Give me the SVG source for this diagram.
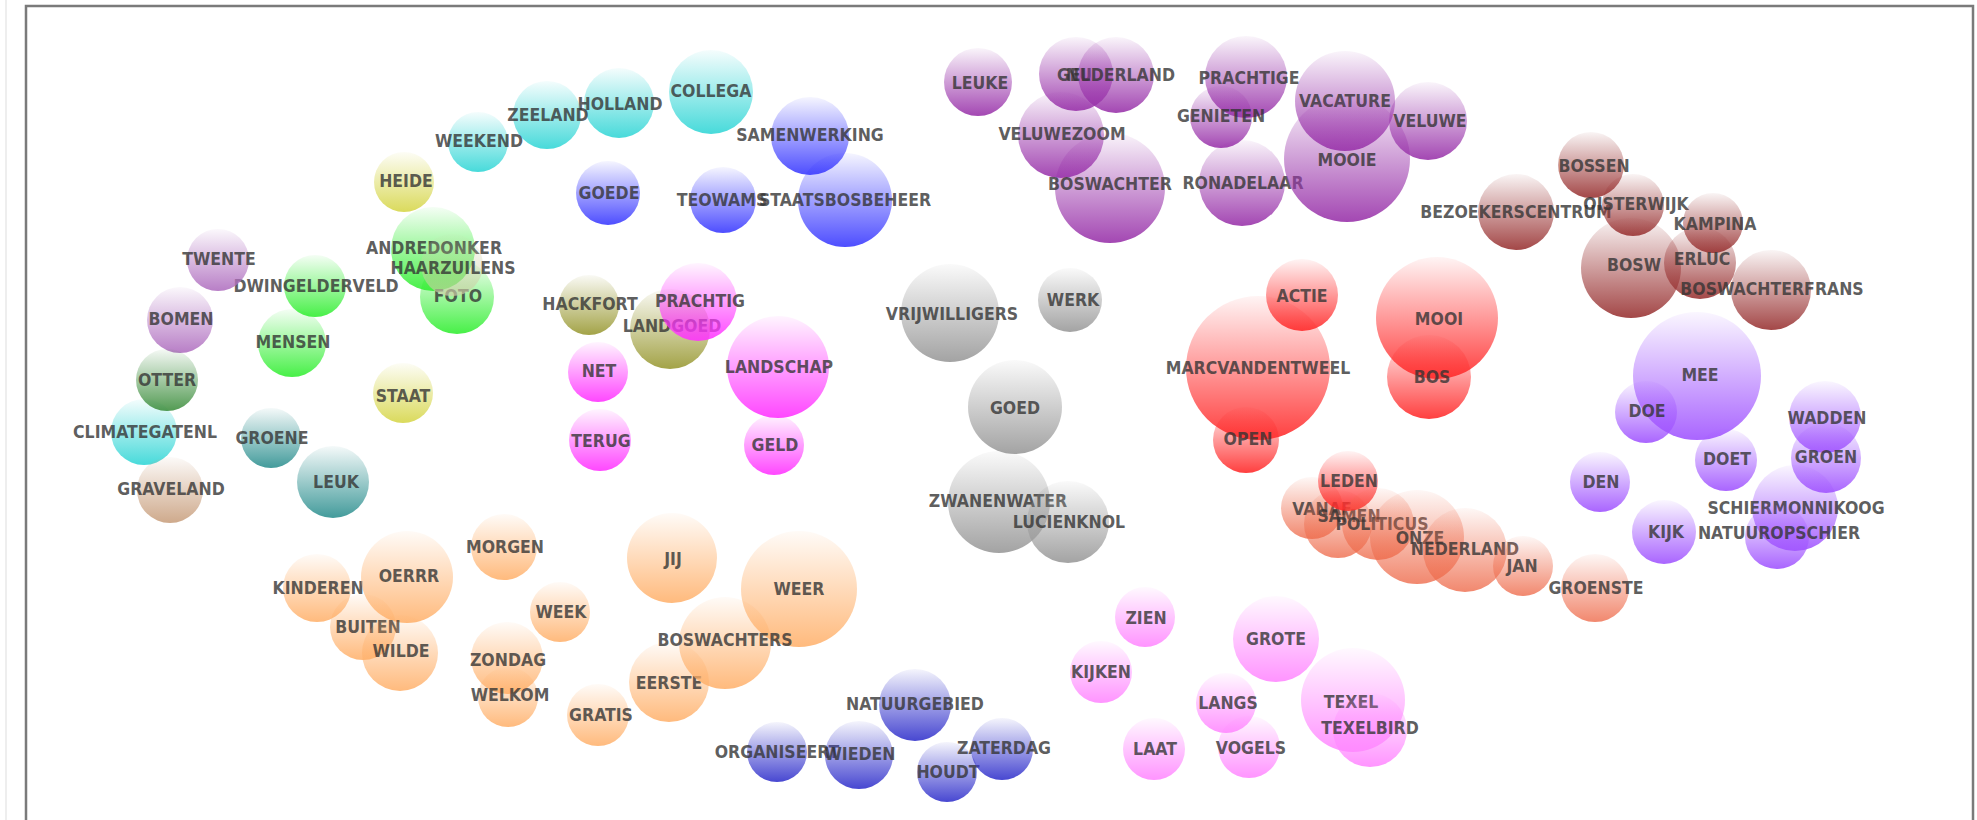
<svg xmlns="http://www.w3.org/2000/svg" width="1977" height="820" viewBox="0 0 1977 820">
<style>
.b{stroke:none}
.t{font-family:"DejaVu Sans Condensed","DejaVu Sans",sans-serif;font-stretch:condensed;font-weight:bold;font-size:17.5px;fill:#333;fill-opacity:0.8;text-anchor:middle}
</style>
<defs>
<linearGradient id="cyan" x1="0" y1="0" x2="0" y2="1"><stop offset="0" stop-color="#33d6d6" stop-opacity="0.05"/><stop offset="1" stop-color="#33d6d6" stop-opacity="0.9"/></linearGradient>
<linearGradient id="yellow" x1="0" y1="0" x2="0" y2="1"><stop offset="0" stop-color="#d6d64a" stop-opacity="0.05"/><stop offset="1" stop-color="#d6d64a" stop-opacity="0.9"/></linearGradient>
<linearGradient id="blue" x1="0" y1="0" x2="0" y2="1"><stop offset="0" stop-color="#3a3aff" stop-opacity="0.05"/><stop offset="1" stop-color="#3a3aff" stop-opacity="0.9"/></linearGradient>
<linearGradient id="green" x1="0" y1="0" x2="0" y2="1"><stop offset="0" stop-color="#33ee33" stop-opacity="0.05"/><stop offset="1" stop-color="#33ee33" stop-opacity="0.9"/></linearGradient>
<linearGradient id="pale" x1="0" y1="0" x2="0" y2="1"><stop offset="0" stop-color="#cfcfa8" stop-opacity="0.05"/><stop offset="1" stop-color="#cfcfa8" stop-opacity="0.7"/></linearGradient>
<linearGradient id="lav" x1="0" y1="0" x2="0" y2="1"><stop offset="0" stop-color="#b070c0" stop-opacity="0.05"/><stop offset="1" stop-color="#b070c0" stop-opacity="0.9"/></linearGradient>
<linearGradient id="dkgreen" x1="0" y1="0" x2="0" y2="1"><stop offset="0" stop-color="#3f8f3f" stop-opacity="0.05"/><stop offset="1" stop-color="#3f8f3f" stop-opacity="0.9"/></linearGradient>
<linearGradient id="teal" x1="0" y1="0" x2="0" y2="1"><stop offset="0" stop-color="#2e9090" stop-opacity="0.05"/><stop offset="1" stop-color="#2e9090" stop-opacity="0.9"/></linearGradient>
<linearGradient id="tan" x1="0" y1="0" x2="0" y2="1"><stop offset="0" stop-color="#c9a07f" stop-opacity="0.05"/><stop offset="1" stop-color="#c9a07f" stop-opacity="0.9"/></linearGradient>
<linearGradient id="olive" x1="0" y1="0" x2="0" y2="1"><stop offset="0" stop-color="#999933" stop-opacity="0.05"/><stop offset="1" stop-color="#999933" stop-opacity="0.9"/></linearGradient>
<linearGradient id="magenta" x1="0" y1="0" x2="0" y2="1"><stop offset="0" stop-color="#ff33ff" stop-opacity="0.05"/><stop offset="1" stop-color="#ff33ff" stop-opacity="0.9"/></linearGradient>
<linearGradient id="purple" x1="0" y1="0" x2="0" y2="1"><stop offset="0" stop-color="#9933aa" stop-opacity="0.05"/><stop offset="1" stop-color="#9933aa" stop-opacity="0.9"/></linearGradient>
<linearGradient id="gray" x1="0" y1="0" x2="0" y2="1"><stop offset="0" stop-color="#999999" stop-opacity="0.05"/><stop offset="1" stop-color="#999999" stop-opacity="0.9"/></linearGradient>
<linearGradient id="red" x1="0" y1="0" x2="0" y2="1"><stop offset="0" stop-color="#ff2a2a" stop-opacity="0.05"/><stop offset="1" stop-color="#ff2a2a" stop-opacity="0.9"/></linearGradient>
<linearGradient id="salmon" x1="0" y1="0" x2="0" y2="1"><stop offset="0" stop-color="#ee6a4a" stop-opacity="0.05"/><stop offset="1" stop-color="#ee6a4a" stop-opacity="0.8"/></linearGradient>
<linearGradient id="brown" x1="0" y1="0" x2="0" y2="1"><stop offset="0" stop-color="#993333" stop-opacity="0.05"/><stop offset="1" stop-color="#993333" stop-opacity="0.9"/></linearGradient>
<linearGradient id="lpurple" x1="0" y1="0" x2="0" y2="1"><stop offset="0" stop-color="#a054ff" stop-opacity="0.05"/><stop offset="1" stop-color="#a054ff" stop-opacity="0.9"/></linearGradient>
<linearGradient id="peach" x1="0" y1="0" x2="0" y2="1"><stop offset="0" stop-color="#ffae66" stop-opacity="0.05"/><stop offset="1" stop-color="#ffae66" stop-opacity="0.85"/></linearGradient>
<linearGradient id="indigo" x1="0" y1="0" x2="0" y2="1"><stop offset="0" stop-color="#3333cc" stop-opacity="0.05"/><stop offset="1" stop-color="#3333cc" stop-opacity="0.9"/></linearGradient>
<linearGradient id="pink" x1="0" y1="0" x2="0" y2="1"><stop offset="0" stop-color="#ff88ff" stop-opacity="0.05"/><stop offset="1" stop-color="#ff88ff" stop-opacity="0.9"/></linearGradient>
</defs>
<rect x="0" y="0" width="1977" height="820" fill="#ffffff"/>
<line x1="6" y1="0" x2="6" y2="820" stroke="#dddddd" stroke-width="1"/>
<rect x="26" y="6" width="1947" height="840" fill="none" stroke="#7a7a7a" stroke-width="2.5"/>
<g id="connectors"></g>
<g id="nodes">
<g id="n-holland"><circle class="b" cx="619" cy="103" r="35" fill="url(#cyan)"/><text class="t" x="620" y="109.5">HOLLAND</text></g>
<g id="n-zeeland"><circle class="b" cx="547" cy="115" r="34" fill="url(#cyan)"/><text class="t" x="548" y="120.5">ZEELAND</text></g>
<g id="n-weekend"><circle class="b" cx="478" cy="142" r="30" fill="url(#cyan)"/><text class="t" x="479" y="146.5">WEEKEND</text></g>
<g id="n-collega"><circle class="b" cx="711" cy="92" r="42" fill="url(#cyan)"/><text class="t" x="711" y="96.5">COLLEGA</text></g>
<g id="n-climategatenl"><circle class="b" cx="144" cy="432" r="33" fill="url(#cyan)"/><text class="t" x="145" y="437.5">CLIMATEGATENL</text></g>
<g id="n-heide"><circle class="b" cx="404" cy="182" r="30" fill="url(#yellow)"/><text class="t" x="406" y="186.5">HEIDE</text></g>
<g id="n-staat"><circle class="b" cx="403" cy="393" r="30" fill="url(#yellow)"/><text class="t" x="403" y="401.5">STAAT</text></g>
<g id="n-goede"><circle class="b" cx="608" cy="193" r="32" fill="url(#blue)"/><text class="t" x="609" y="198.5">GOEDE</text></g>
<g id="n-samenwerking"><circle class="b" cx="810" cy="136" r="39" fill="url(#blue)"/><text class="t" x="810" y="140.5">SAMENWERKING</text></g>
<g id="n-staatsbosbeheer"><circle class="b" cx="845" cy="200" r="47" fill="url(#blue)"/><text class="t" x="845" y="205.5">STAATSBOSBEHEER</text></g>
<g id="n-teowams"><circle class="b" cx="723" cy="200" r="33" fill="url(#blue)"/><text class="t" x="722" y="205.5">TEOWAMS</text></g>
<g id="n-andredonker"><circle class="b" cx="433" cy="249" r="42" fill="url(#green)"/><text class="t" x="434" y="253.5">ANDREDONKER</text></g>
<g id="n-foto"><circle class="b" cx="457" cy="297" r="37" fill="url(#green)"/><text class="t" x="458" y="301.5">FOTO</text></g>
<g id="n-haarzuilens"><circle class="b" cx="452" cy="265" r="31" fill="url(#pale)"/><text class="t" x="453" y="273.5">HAARZUILENS</text></g>
<g id="n-dwingelderveld"><circle class="b" cx="315" cy="286" r="31" fill="url(#green)"/><text class="t" x="316" y="291.5">DWINGELDERVELD</text></g>
<g id="n-mensen"><circle class="b" cx="292" cy="343" r="34" fill="url(#green)"/><text class="t" x="293" y="347.5">MENSEN</text></g>
<g id="n-twente"><circle class="b" cx="218" cy="260" r="31" fill="url(#lav)"/><text class="t" x="219" y="264.5">TWENTE</text></g>
<g id="n-bomen"><circle class="b" cx="180" cy="320" r="33" fill="url(#lav)"/><text class="t" x="181" y="324.5">BOMEN</text></g>
<g id="n-otter"><circle class="b" cx="167" cy="380" r="31" fill="url(#dkgreen)"/><text class="t" x="167" y="385.5">OTTER</text></g>
<g id="n-groene"><circle class="b" cx="271" cy="438" r="30" fill="url(#teal)"/><text class="t" x="272" y="443.5">GROENE</text></g>
<g id="n-leuk"><circle class="b" cx="333" cy="482" r="36" fill="url(#teal)"/><text class="t" x="336" y="487.5">LEUK</text></g>
<g id="n-graveland"><circle class="b" cx="170" cy="490" r="33" fill="url(#tan)"/><text class="t" x="171" y="494.5">GRAVELAND</text></g>
<g id="n-hackfort"><circle class="b" cx="589" cy="305" r="30" fill="url(#olive)"/><text class="t" x="590" y="309.5">HACKFORT</text></g>
<g id="n-landgoed"><circle class="b" cx="670" cy="329" r="40" fill="url(#olive)"/><text class="t" x="672" y="331.5">LANDGOED</text></g>
<g id="n-prachtig"><circle class="b" cx="698" cy="302" r="39" fill="url(#magenta)"/><text class="t" x="700" y="306.5">PRACHTIG</text></g>
<g id="n-net"><circle class="b" cx="598" cy="372" r="30" fill="url(#magenta)"/><text class="t" x="599" y="376.5">NET</text></g>
<g id="n-terug"><circle class="b" cx="600" cy="440" r="31" fill="url(#magenta)"/><text class="t" x="601" y="446.5">TERUG</text></g>
<g id="n-landschap"><circle class="b" cx="778" cy="367" r="51" fill="url(#magenta)"/><text class="t" x="779" y="372.5">LANDSCHAP</text></g>
<g id="n-geld"><circle class="b" cx="774" cy="445" r="30" fill="url(#magenta)"/><text class="t" x="775" y="450.5">GELD</text></g>
<g id="n-leuke"><circle class="b" cx="978" cy="82" r="34" fill="url(#purple)"/><text class="t" x="980" y="88.5">LEUKE</text></g>
<g id="n-nu"><circle class="b" cx="1076" cy="74" r="37" fill="url(#purple)"/><text class="t" x="1079" y="80.5">NU</text></g>
<g id="n-gelderland"><circle class="b" cx="1116" cy="75" r="38" fill="url(#purple)"/><text class="t" x="1116" y="80.5">GELDERLAND</text></g>
<g id="n-veluwezoom"><circle class="b" cx="1061" cy="135" r="43" fill="url(#purple)"/><text class="t" x="1062" y="139.5">VELUWEZOOM</text></g>
<g id="n-boswachter"><circle class="b" cx="1110" cy="188" r="55" fill="url(#purple)"/><text class="t" x="1110" y="189.5">BOSWACHTER</text></g>
<g id="n-prachtige"><circle class="b" cx="1246" cy="77" r="41" fill="url(#purple)"/><text class="t" x="1249" y="83.5">PRACHTIGE</text></g>
<g id="n-genieten"><circle class="b" cx="1221" cy="117" r="31" fill="url(#purple)"/><text class="t" x="1221" y="121.5">GENIETEN</text></g>
<g id="n-ronadelaar"><circle class="b" cx="1242" cy="183" r="43" fill="url(#purple)"/><text class="t" x="1243" y="188.5">RONADELAAR</text></g>
<g id="n-vacature"><circle class="b" cx="1345" cy="101" r="50" fill="url(#purple)"/><text class="t" x="1345" y="106.5">VACATURE</text></g>
<g id="n-mooie"><circle class="b" cx="1347" cy="159" r="63" fill="url(#purple)"/><text class="t" x="1347" y="165.5">MOOIE</text></g>
<g id="n-veluwe"><circle class="b" cx="1428" cy="121" r="39" fill="url(#purple)"/><text class="t" x="1430" y="126.5">VELUWE</text></g>
<g id="n-vrijwilligers"><circle class="b" cx="950" cy="313" r="49" fill="url(#gray)"/><text class="t" x="952" y="319.5">VRIJWILLIGERS</text></g>
<g id="n-werk"><circle class="b" cx="1070" cy="300" r="32" fill="url(#gray)"/><text class="t" x="1073" y="305.5">WERK</text></g>
<g id="n-goed"><circle class="b" cx="1015" cy="407" r="47" fill="url(#gray)"/><text class="t" x="1015" y="413.5">GOED</text></g>
<g id="n-zwanenwater"><circle class="b" cx="999" cy="502" r="51" fill="url(#gray)"/><text class="t" x="998" y="506.5">ZWANENWATER</text></g>
<g id="n-lucienknol"><circle class="b" cx="1068" cy="522" r="41" fill="url(#gray)"/><text class="t" x="1069" y="527.5">LUCIENKNOL</text></g>
<g id="n-actie"><circle class="b" cx="1302" cy="295" r="36" fill="url(#red)"/><text class="t" x="1302" y="301.5">ACTIE</text></g>
<g id="n-marcvandentweel"><circle class="b" cx="1258" cy="368" r="72" fill="url(#red)"/><text class="t" x="1258" y="373.5">MARCVANDENTWEEL</text></g>
<g id="n-mooi"><circle class="b" cx="1437" cy="318" r="61" fill="url(#red)"/><text class="t" x="1439" y="324.5">MOOI</text></g>
<g id="n-bos"><circle class="b" cx="1429" cy="377" r="42" fill="url(#red)"/><text class="t" x="1432" y="382.5">BOS</text></g>
<g id="n-open"><circle class="b" cx="1246" cy="440" r="33" fill="url(#red)"/><text class="t" x="1248" y="444.5">OPEN</text></g>
<g id="n-vanaf"><circle class="b" cx="1312" cy="508" r="31" fill="url(#salmon)"/><text class="t" x="1322" y="514.5">VANAF</text></g>
<g id="n-samen"><circle class="b" cx="1338" cy="524" r="34" fill="url(#salmon)"/><text class="t" x="1349" y="521.5">SAMEN</text></g>
<g id="n-leden"><circle class="b" cx="1348" cy="481" r="30" fill="url(#red)"/><text class="t" x="1349" y="486.5">LEDEN</text></g>
<g id="n-politicus"><circle class="b" cx="1378" cy="524" r="36" fill="url(#salmon)"/><text class="t" x="1382" y="529.5">POLITICUS</text></g>
<g id="n-onze"><circle class="b" cx="1417" cy="537" r="47" fill="url(#salmon)"/><text class="t" x="1420" y="543.5">ONZE</text></g>
<g id="n-nederland"><circle class="b" cx="1465" cy="550" r="42" fill="url(#salmon)"/><text class="t" x="1465" y="554.5">NEDERLAND</text></g>
<g id="n-jan"><circle class="b" cx="1523" cy="566" r="30" fill="url(#salmon)"/><text class="t" x="1522" y="571.5">JAN</text></g>
<g id="n-groenste"><circle class="b" cx="1595" cy="588" r="34" fill="url(#salmon)"/><text class="t" x="1596" y="593.5">GROENSTE</text></g>
<g id="n-bossen"><circle class="b" cx="1591" cy="165" r="33" fill="url(#brown)"/><text class="t" x="1594" y="171.5">BOSSEN</text></g>
<g id="n-bezoekerscentrum"><circle class="b" cx="1516" cy="212" r="38" fill="url(#brown)"/><text class="t" x="1516" y="217.5">BEZOEKERSCENTRUM</text></g>
<g id="n-oisterwijk"><circle class="b" cx="1633" cy="205" r="31" fill="url(#brown)"/><text class="t" x="1636" y="209.5">OISTERWIJK</text></g>
<g id="n-kampina"><circle class="b" cx="1713" cy="223" r="30" fill="url(#brown)"/><text class="t" x="1715" y="229.5">KAMPINA</text></g>
<g id="n-bosw"><circle class="b" cx="1631" cy="268" r="50" fill="url(#brown)"/><text class="t" x="1634" y="270.5">BOSW</text></g>
<g id="n-erluc"><circle class="b" cx="1700" cy="263" r="36" fill="url(#brown)"/><text class="t" x="1702" y="264.5">ERLUC</text></g>
<g id="n-boswachterfrans"><circle class="b" cx="1771" cy="290" r="40" fill="url(#brown)"/><text class="t" x="1772" y="294.5">BOSWACHTERFRANS</text></g>
<g id="n-mee"><circle class="b" cx="1697" cy="376" r="64" fill="url(#lpurple)"/><text class="t" x="1700" y="380.5">MEE</text></g>
<g id="n-doe"><circle class="b" cx="1646" cy="412" r="31" fill="url(#lpurple)"/><text class="t" x="1647" y="416.5">DOE</text></g>
<g id="n-wadden"><circle class="b" cx="1825" cy="417" r="36" fill="url(#lpurple)"/><text class="t" x="1827" y="423.5">WADDEN</text></g>
<g id="n-groen"><circle class="b" cx="1826" cy="458" r="35" fill="url(#lpurple)"/><text class="t" x="1826" y="462.5">GROEN</text></g>
<g id="n-doet"><circle class="b" cx="1726" cy="460" r="31" fill="url(#lpurple)"/><text class="t" x="1727" y="464.5">DOET</text></g>
<g id="n-den"><circle class="b" cx="1600" cy="482" r="30" fill="url(#lpurple)"/><text class="t" x="1601" y="487.5">DEN</text></g>
<g id="n-kijk"><circle class="b" cx="1664" cy="532" r="32" fill="url(#lpurple)"/><text class="t" x="1666" y="537.5">KIJK</text></g>
<g id="n-schiermonnikoog"><circle class="b" cx="1795" cy="508" r="43" fill="url(#lpurple)"/><text class="t" x="1796" y="513.5">SCHIERMONNIKOOG</text></g>
<g id="n-natuuropschier"><circle class="b" cx="1777" cy="537" r="32" fill="url(#lpurple)"/><text class="t" x="1779" y="538.5">NATUUROPSCHIER</text></g>
<g id="n-morgen"><circle class="b" cx="504" cy="547" r="33" fill="url(#peach)"/><text class="t" x="505" y="552.5">MORGEN</text></g>
<g id="n-kinderen"><circle class="b" cx="317" cy="588" r="34" fill="url(#peach)"/><text class="t" x="318" y="593.5">KINDEREN</text></g>
<g id="n-oerrr"><circle class="b" cx="407" cy="577" r="46" fill="url(#peach)"/><text class="t" x="409" y="581.5">OERRR</text></g>
<g id="n-buiten"><circle class="b" cx="363" cy="627" r="33" fill="url(#peach)"/><text class="t" x="368" y="632.5">BUITEN</text></g>
<g id="n-wilde"><circle class="b" cx="400" cy="653" r="38" fill="url(#peach)"/><text class="t" x="401" y="656.5">WILDE</text></g>
<g id="n-week"><circle class="b" cx="560" cy="612" r="30" fill="url(#peach)"/><text class="t" x="561" y="617.5">WEEK</text></g>
<g id="n-zondag"><circle class="b" cx="507" cy="658" r="36" fill="url(#peach)"/><text class="t" x="508" y="665.5">ZONDAG</text></g>
<g id="n-welkom"><circle class="b" cx="508" cy="697" r="30" fill="url(#peach)"/><text class="t" x="510" y="700.5">WELKOM</text></g>
<g id="n-gratis"><circle class="b" cx="598" cy="715" r="31" fill="url(#peach)"/><text class="t" x="601" y="720.5">GRATIS</text></g>
<g id="n-jij"><circle class="b" cx="672" cy="558" r="45" fill="url(#peach)"/><text class="t" x="673" y="564.5">JIJ</text></g>
<g id="n-eerste"><circle class="b" cx="669" cy="682" r="40" fill="url(#peach)"/><text class="t" x="669" y="688.5">EERSTE</text></g>
<g id="n-weer"><circle class="b" cx="799" cy="589" r="58" fill="url(#peach)"/><text class="t" x="799" y="594.5">WEER</text></g>
<g id="n-boswachters"><circle class="b" cx="725" cy="643" r="46" fill="url(#peach)"/><text class="t" x="725" y="645.5">BOSWACHTERS</text></g>
<g id="n-natuurgebied"><circle class="b" cx="915" cy="705" r="36" fill="url(#indigo)"/><text class="t" x="915" y="709.5">NATUURGEBIED</text></g>
<g id="n-organiseert"><circle class="b" cx="777" cy="752" r="30" fill="url(#indigo)"/><text class="t" x="777" y="757.5">ORGANISEERT</text></g>
<g id="n-wieden"><circle class="b" cx="859" cy="755" r="34" fill="url(#indigo)"/><text class="t" x="860" y="759.5">WIEDEN</text></g>
<g id="n-houdt"><circle class="b" cx="947" cy="772" r="30" fill="url(#indigo)"/><text class="t" x="948" y="777.5">HOUDT</text></g>
<g id="n-zaterdag"><circle class="b" cx="1002" cy="749" r="31" fill="url(#indigo)"/><text class="t" x="1004" y="753.5">ZATERDAG</text></g>
<g id="n-zien"><circle class="b" cx="1145" cy="617" r="30" fill="url(#pink)"/><text class="t" x="1146" y="623.5">ZIEN</text></g>
<g id="n-kijken"><circle class="b" cx="1101" cy="672" r="31" fill="url(#pink)"/><text class="t" x="1101" y="677.5">KIJKEN</text></g>
<g id="n-grote"><circle class="b" cx="1276" cy="639" r="43" fill="url(#pink)"/><text class="t" x="1276" y="644.5">GROTE</text></g>
<g id="n-langs"><circle class="b" cx="1226" cy="703" r="30" fill="url(#pink)"/><text class="t" x="1228" y="708.5">LANGS</text></g>
<g id="n-laat"><circle class="b" cx="1154" cy="749" r="31" fill="url(#pink)"/><text class="t" x="1155" y="754.5">LAAT</text></g>
<g id="n-vogels"><circle class="b" cx="1249" cy="747" r="31" fill="url(#pink)"/><text class="t" x="1251" y="753.5">VOGELS</text></g>
<g id="n-texel"><circle class="b" cx="1353" cy="700" r="52" fill="url(#pink)"/><text class="t" x="1351" y="707.5">TEXEL</text></g>
<g id="n-texelbird"><circle class="b" cx="1370" cy="730" r="37" fill="url(#pink)"/><text class="t" x="1370" y="733.5">TEXELBIRD</text></g>
</g>
</svg>
